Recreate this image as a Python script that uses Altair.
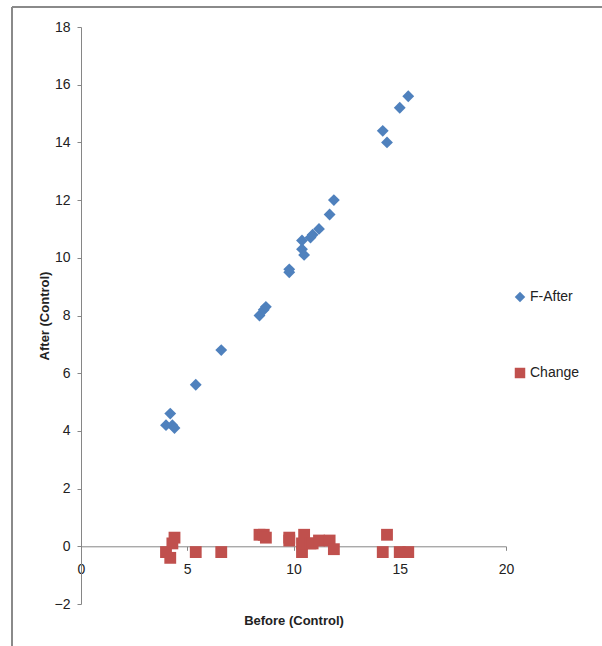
import altair as alt
import pandas as pd

before = [4.0, 4.2, 4.3, 4.4, 5.4, 6.6, 8.4, 8.6, 8.7, 9.8, 9.8, 10.4, 10.4, 10.5,
          10.8, 10.9, 11.2, 11.7, 11.9, 14.2, 14.4, 15.0, 15.4]
after = [4.2, 4.6, 4.2, 4.1, 5.6, 6.8, 8.0, 8.2, 8.3, 9.6, 9.5, 10.6, 10.3, 10.1,
         10.7, 10.8, 11.0, 11.5, 12.0, 14.4, 14.0, 15.2, 15.6]
change = [-0.2, -0.4, 0.1, 0.3, -0.2, -0.2, 0.4, 0.4, 0.3, 0.2, 0.3, -0.2, 0.1, 0.4,
          0.1, 0.1, 0.2, 0.2, -0.1, -0.2, 0.4, -0.2, -0.2]
series = ["F-After", "Change"]
x_ticks = [0, 5, 10, 15, 20]
y_ticks = [-2, 0, 2, 4, 6, 8, 10, 12, 14, 16, 18]

rows = []
for b, a, c in zip(before, after, change):
    rows.append({"before": b, "value": a, "series": series[0]})
    rows.append({"before": b, "value": c, "series": series[1]})
df = pd.DataFrame(rows)

FONT = "Liberation Sans Narrow, Liberation Sans, sans-serif"
W, H = 425, 577

points = alt.Chart(df).mark_point(filled=True, opacity=1, size=140).encode(
    x=alt.X("before:Q",
            scale=alt.Scale(domain=[0, 20], nice=False, zero=False),
            axis=alt.Axis(values=x_ticks, offset=-H / 10, grid=False,
                          domainColor="#868686", tickColor="#868686", tickSize=4,
                          labelFlush=False, labelOverlap=False,
                          labelPadding=12, labelFontSize=14, labelColor="#222222",
                          labelFont=FONT, title="Before (Control)",
                          titleFont=FONT, titleFontSize=13, titleFontWeight="bold",
                          titleColor="#222222", titleY=74, titleBaseline="middle")),
    y=alt.Y("value:Q",
            scale=alt.Scale(domain=[-2, 18], nice=False, zero=False),
            axis=alt.Axis(values=y_ticks, grid=False,
                          domainColor="#868686", tickColor="#868686", tickSize=4,
                          labelFlush=False, labelOverlap=False,
                          labelPadding=7, labelFontSize=14, labelColor="#222222",
                          labelFont=FONT, title="After  (Control)",
                          titleFont=FONT, titleFontSize=13, titleFontWeight="bold",
                          titleColor="#222222", titleX=-37, titleY=H / 2,
                          titleAngle=270, titleAlign="center",
                          titleBaseline="middle")),
    color=alt.Color("series:N",
                    scale=alt.Scale(domain=series, range=["#4F81BD", "#C0504D"]),
                    legend=alt.Legend(title=None, orient="none", legendX=432,
                                      legendY=263, rowPadding=62, symbolSize=110,
                                      labelOffset=3,
                                      labelFont=FONT, labelFontSize=14,
                                      labelColor="#222222", symbolOpacity=1)),
    shape=alt.Shape("series:N",
                    scale=alt.Scale(domain=series, range=["diamond", "square"]),
                    legend=None),
)

frame_left = alt.Chart(df).mark_rule(color="#8a8a8a", strokeWidth=1.5).encode(
    x=alt.value(-69), y=alt.value(-20), y2=alt.value(H + 42))
frame_top = alt.Chart(df).mark_rule(color="#8a8a8a", strokeWidth=1.5).encode(
    x=alt.value(-69), x2=alt.value(W + 96), y=alt.value(-20))

chart = alt.layer(frame_left, frame_top, points).properties(
    width=W, height=H,
    background="white",
    autosize=alt.AutoSizeParams(type="none"),
    padding={"left": 81, "top": 27, "right": 96, "bottom": 42},
).configure_view(strokeWidth=0, stroke="transparent")

chart.save("out.html", embed_options={"renderer": "svg", "actions": False})
